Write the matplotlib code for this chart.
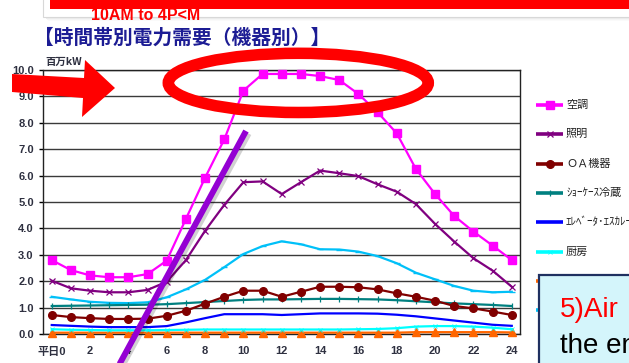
import matplotlib
matplotlib.use("Agg")
import matplotlib.pyplot as plt
from matplotlib.patches import Ellipse, Polygon, Rectangle
from matplotlib.lines import Line2D

# ---- data: hourly demand by equipment (million kW), weekday ----
hours = list(range(25))
aircon = [2.80, 2.42, 2.22, 2.15, 2.15, 2.27, 2.78, 4.36, 5.92, 7.37, 9.22, 9.85, 9.85,
          9.85, 9.77, 9.62, 9.09, 8.40, 7.60, 6.25, 5.30, 4.47, 3.88, 3.35, 2.80]
lighting = [2.02, 1.73, 1.64, 1.58, 1.58, 1.67, 1.98, 2.80, 3.91, 4.89, 5.75, 5.78, 5.30,
            5.75, 6.19, 6.09, 5.98, 5.67, 5.39, 4.92, 4.17, 3.50, 2.87, 2.40, 1.79]
office = [0.72, 0.64, 0.60, 0.57, 0.57, 0.58, 0.69, 0.88, 1.15, 1.41, 1.64, 1.64, 1.41,
          1.60, 1.79, 1.79, 1.77, 1.69, 1.54, 1.41, 1.26, 1.06, 0.97, 0.85, 0.72]
showcase = [1.06, 1.07, 1.08, 1.09, 1.10, 1.11, 1.13, 1.17, 1.21, 1.25, 1.29, 1.31, 1.31,
            1.32, 1.33, 1.33, 1.32, 1.31, 1.28, 1.24, 1.20, 1.16, 1.13, 1.10, 1.06]
elevator = [0.34, 0.31, 0.28, 0.26, 0.26, 0.26, 0.30, 0.44, 0.60, 0.75, 0.75, 0.75, 0.72,
            0.75, 0.78, 0.78, 0.78, 0.77, 0.73, 0.67, 0.59, 0.51, 0.43, 0.35, 0.31]
kitchen = [0.18, 0.16, 0.15, 0.14, 0.14, 0.14, 0.15, 0.16, 0.17, 0.17, 0.17, 0.17, 0.17,
           0.17, 0.17, 0.17, 0.18, 0.19, 0.22, 0.28, 0.30, 0.30, 0.28, 0.24, 0.18]
hotwater = [0.05, 0.05, 0.05, 0.05, 0.05, 0.05, 0.05, 0.05, 0.05, 0.05, 0.05, 0.05, 0.05,
            0.05, 0.05, 0.05, 0.05, 0.05, 0.05, 0.07, 0.07, 0.07, 0.07, 0.07, 0.06]
others = [1.41, 1.31, 1.22, 1.18, 1.17, 1.20, 1.39, 1.69, 2.05, 2.53, 3.03, 3.33, 3.51,
          3.40, 3.21, 3.20, 3.12, 2.95, 2.68, 2.32, 2.07, 1.82, 1.64, 1.58, 1.60]

labels = ["空調", "照明", "ＯＡ機器", "ｼｮｰｹｰｽ冷蔵", "ｴﾚﾍﾞｰﾀ･ｴｽｶﾚｰﾀ", "厨房", "給湯", "その他"]
y_ticks = [0, 1, 2, 3, 4, 5, 6, 7, 8, 9, 10]
x_ticks = list(range(0, 25, 2))
x_labels = ["平日0"] + [str(h) for h in x_ticks[1:]]

CJK = ["Noto Sans CJK JP", "DejaVu Sans"]
NUM = ["Liberation Sans", "Noto Sans CJK JP", "DejaVu Sans"]

W, H = 629, 363
fig = plt.figure(figsize=(W / 100, H / 100), dpi=100)
fig.patch.set_facecolor("white")

ax = fig.add_axes([43.5 / W, 1 - 334 / H, (520 - 43.5) / W, (334 - 70) / H])
ax.set_xlim(-0.43, 24.43)
ax.set_ylim(0, 10)

# series in legend order: values, line colour, marker options
series = [
    (aircon, "#ff00ff", dict(marker="s", ms=5.2, mec="#ff00ff", mfc="#ff00ff")),
    (lighting, "#800080", dict(marker="x", ms=5, mew=0.9)),
    (office, "#800000", dict(marker="o", ms=5.5)),
    (showcase, "#008080", dict(marker="|", ms=5, mew=0.9)),
    (elevator, "#0000ff", dict()),
    (kitchen, "#00ffff", dict(marker="x", ms=3, mew=0.6)),
    (hotwater, "#ff6600", dict(marker="^", ms=6)),
    (others, "#00c0f8", dict(marker="_", ms=4)),
]
draw_order = [0, 1, 2, 3, 4, 7, 5, 6]
for rank, idx in enumerate(draw_order):
    vals, col, mk = series[idx]
    ax.plot(hours, vals, color=col, lw=1.6, clip_on=False, zorder=4 - rank * 0.1, **mk)

ax.set_yticks(y_ticks)
ax.set_yticklabels([f"{v:.1f}" for v in y_ticks])
ax.yaxis.grid(True, color="#3a3a3a", lw=1.0)
ax.set_axisbelow(True)
ax.set_xticks(x_ticks)
ax.set_xticklabels(x_labels)
ax.tick_params(axis="y", length=3, width=1, pad=4, labelsize=8, labelcolor="#2e3040")
ax.tick_params(axis="x", length=0, pad=9, labelsize=8, labelcolor="#2e3040")
for lab in ax.get_xticklabels() + ax.get_yticklabels():
    lab.set_family(NUM)
    lab.set_fontweight("bold")
for s in ax.spines.values():
    s.set_color("#222222")
    s.set_linewidth(1.0)

# ---- overlay in pixel coordinates for slide annotations ----
ov = fig.add_axes([0, 0, 1, 1], zorder=10)
ov.set_xlim(0, W)
ov.set_ylim(H, 0)
ov.axis("off")
ov.patch.set_alpha(0)

ov.text(34, 38, "【時間帯別電力需要（機器別）】", family=CJK, fontsize=14.2,
        fontweight="bold", color="#1c1c94", ha="left", va="center", zorder=2)
ov.text(45, 62, "百万kW", family=CJK, fontsize=7.5, fontweight="bold",
        color="#2e3040", ha="left", va="center", zorder=2)

# legend column
for row, (vals, col, mk) in enumerate(series):
    y = 105 + 29.3 * row
    ov.add_line(Line2D([536, 563], [y, y], color=col, lw=2.6,
                       solid_capstyle="butt", zorder=2))
    if mk:
        ov.add_line(Line2D([549.5], [y], color=col, lw=0, zorder=2, **mk))
    ov.text(566, y, labels[row], family=CJK, fontsize=8, color="#222222",
            ha="left", va="center", zorder=2)

# top banner
for k, a in enumerate([0.22, 0.14, 0.08, 0.04]):
    ov.add_patch(Rectangle((45 + k, 17 + k), W, 1.2, color="#808080", alpha=a, lw=0, zorder=4))
ov.add_patch(Rectangle((43, -5), W, 22, facecolor="white", edgecolor="#d8d8d8", lw=0.8, zorder=5))
ov.text(91, 19.5, "10AM to 4P<M", family=["Liberation Sans"], fontweight="bold",
        fontsize=11.5, color="#ff0000", ha="left", va="baseline", zorder=6)
ov.add_patch(Rectangle((50, -5), W, 14, facecolor="#ff0000", lw=0, zorder=7))

# red arrow
ov.add_patch(Polygon([(12, 74), (84, 78), (85, 60), (115, 88), (82, 117), (83, 98), (12, 92)],
                     closed=True, facecolor="#ff0000", edgecolor="none", zorder=5))

# red ellipse around the peak
ov.add_patch(Ellipse((298.3, 82.9), 260, 59.2, fill=False, edgecolor="#ff0000",
                     lw=8.3, zorder=5))

# purple trend stroke with soft shadow
ov.add_line(Line2D([248.5, 121.5], [133.5, 367], color="#000000", alpha=0.18, lw=4.5,
                   solid_capstyle="butt", zorder=4))
ov.add_line(Line2D([246, 119], [131, 365], color="#9400d3", lw=4.3,
                   solid_capstyle="butt", zorder=5))

# callout box
ov.add_patch(Rectangle((539.3, 275), 120, 120, facecolor="#d4f5fb", edgecolor="#1f3060",
                       lw=1.6, zorder=8))
ov.text(560, 317, "5)Air", family=["Liberation Sans"], fontsize=20, color="#ff0000",
        ha="left", va="baseline", zorder=9)
ov.text(560, 353, "the en", family=["Liberation Sans"], fontsize=20, color="#000000",
        ha="left", va="baseline", zorder=9)

fig.savefig("out.png", dpi=100, facecolor="white")
